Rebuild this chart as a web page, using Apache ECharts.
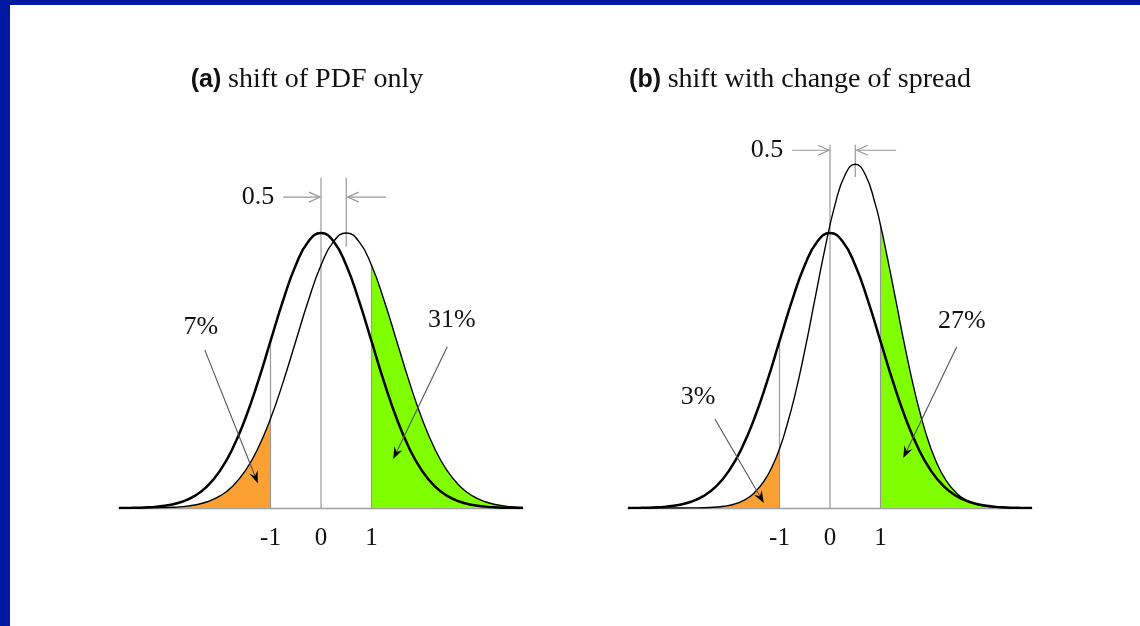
<!DOCTYPE html>
<html><head><meta charset="utf-8">
<script src="https://cdn.jsdelivr.net/npm/echarts@6/dist/echarts.min.js"></script>
<style>html,body{margin:0;padding:0;background:#fff}#c{width:1140px;height:626px}</style>
</head><body><div id="c"></div>
<script>
// ---- data ----
const xs = [-4,-3.75,-3.5,-3.25,-3,-2.75,-2.5,-2.25,-2,-1.75,-1.5,-1.25,-1,-0.75,-0.5,-0.25,0,0.25,0.5,0.75,1,1.25,1.5,1.75,2,2.25,2.5,2.75,3,3.25,3.5,3.75,4];
// reference PDF (centred on 0), both panels
const pdfRef = [0.0001,0.0004,0.0009,0.0020,0.0044,0.0091,0.0175,0.0317,0.0540,0.0863,0.1295,0.1826,0.2420,0.3011,0.3521,0.3867,0.3989,0.3867,0.3521,0.3011,0.2420,0.1826,0.1295,0.0863,0.0540,0.0317,0.0175,0.0091,0.0044,0.0020,0.0009,0.0004,0.0001];
// panel (a): shifted PDF, same spread (on xs)
const pdfShiftA = [0.0000,0.0000,0.0001,0.0004,0.0009,0.0020,0.0044,0.0091,0.0175,0.0317,0.0540,0.0863,0.1295,0.1826,0.2420,0.3011,0.3521,0.3867,0.3989,0.3867,0.3521,0.3011,0.2420,0.1826,0.1295,0.0863,0.0540,0.0317,0.0175,0.0091,0.0044,0.0020,0.0009];
// panel (b): shifted PDF, narrower spread (on its own x grid)
const xsB = [-4,-3.9,-3.7,-3.5,-3.3,-3.1,-2.9,-2.7,-2.5,-2.3,-2.1,-1.9,-1.7,-1.5,-1.3,-1.1,-1,-0.9,-0.7,-0.5,-0.3,-0.1,0.1,0.3,0.5,0.7,0.9,1,1.1,1.3,1.5,1.7,1.9,2.1,2.3,2.5,2.7,2.9,3.1,3.3,3.5,3.7,3.9,4];
const pdfShiftB = [0,0,0,0,0,0,0.0001,0.0002,0.0004,0.0011,0.0025,0.0055,0.0114,0.0219,0.0396,0.0675,0.0860,0.1079,0.1619,0.2283,0.3025,0.3764,0.4401,0.4834,0.4987,0.4834,0.4401,0.4102,0.3764,0.3025,0.2283,0.1619,0.1079,0.0675,0.0396,0.0219,0.0114,0.0055,0.0025,0.0011,0.0004,0.0002,0.0001,0];
const tickLabels = ['-1','0','1'];
const thresholds = [-1, 1];
const shiftValue = 0.5;
const shiftLabel = '0.5';
const percentLabels = [['7%','31%'],['3%','27%']];
const titleTags = ['(a)','(b)'];
const titleTexts = ['shift of PDF only','shift with change of spread'];

// ---- styles ----
const SERIF = '"Liberation Serif","Times New Roman",serif';
const SANS = '"Liberation Sans",Arial,sans-serif';
const BLUE = '#0019A3', ORANGE = '#FBA133', GREEN = '#80FF00', GRAY = '#999999';

const chart = echarts.init(document.getElementById('c'));
const pts = (xv, ys, test) => xv.map((x,i)=>[x, ys[i]]).filter(p=>test(p[0]));
const valAt = (xv, ys, x) => ys[xv.indexOf(x)];
const shiftedY = [pdfShiftA, pdfShiftB];
const shiftedX = [xs, xsB];

const grids = [
  {left:119, width:404, top:94.4, height:413.6},
  {left:628, width:404, top:94.4, height:413.6}
];
const xAxes = [0,1].map(i=>({gridIndex:i,type:'value',min:-4,max:4,interval:1,
  axisLine:{lineStyle:{color:'#a0a0a0',width:1.3}},axisTick:{show:false},splitLine:{show:false},
  axisLabel:{margin:18,fontFamily:SERIF,fontSize:25,color:'#111',showMinLabel:true,showMaxLabel:true,
    formatter:v=>tickLabels.includes(String(v))?String(v):''}}));
const yAxes = [0,1].map(i=>({gridIndex:i,type:'value',min:0,max:0.6,show:false}));
const series = [];
[0,1].forEach(i=>{
  const base = {type:'line',xAxisIndex:i,yAxisIndex:i,smooth:true,symbol:'none',silent:true,animation:false};
  const sx = shiftedX[i], sy = shiftedY[i];
  series.push(Object.assign({},base,{data:pts(sx,sy,x=>x<=thresholds[0]),lineStyle:{width:0},areaStyle:{color:ORANGE,opacity:1},z:1}));
  series.push(Object.assign({},base,{data:pts(sx,sy,x=>x>=thresholds[1]),lineStyle:{width:0},areaStyle:{color:GREEN,opacity:1},z:1}));
  series.push(Object.assign({},base,{data:pts(xs,pdfRef,()=>true),lineStyle:{color:'#000',width:2.5},z:4}));
  series.push(Object.assign({},base,{data:pts(sx,sy,()=>true),lineStyle:{color:'#000',width:1.4},z:4}));
});

chart.setOption({animation:false,backgroundColor:'#fff',grid:grids,xAxis:xAxes,yAxis:yAxes,series:series});

// ---- annotations (positions in data units) ----
const ann = [
  {vTop:0.479, vMid:0.379, arrowY:0.451, lFrom:-0.75, lTo:-0.02, rFrom:1.29, rTo:0.53, labelX:-1.25,
   pct:[{t:[-2.38,0.263], a:[-2.30,0.229], b:[-1.25,0.036]},{t:[2.59,0.273], a:[2.50,0.234], b:[1.43,0.071]}]},
  {vTop:0.527, vMid:0.480, arrowY:0.519, lFrom:-0.75, lTo:-0.02, rFrom:1.31, rTo:0.53, labelX:-1.25,
   pct:[{t:[-2.61,0.161], a:[-2.28,0.129], b:[-1.31,0.0073]},{t:[2.61,0.271], a:[2.51,0.234], b:[1.45,0.0725]}]}
];
const G = [];
G.push({type:'rect',shape:{x:0,y:0,width:1140,height:5},style:{fill:BLUE},z:10});
G.push({type:'rect',shape:{x:0,y:0,width:10,height:626},style:{fill:BLUE},z:10});

function head(tip, from, len, half){
  const dx=tip[0]-from[0], dy=tip[1]-from[1], L=Math.hypot(dx,dy), ux=dx/L, uy=dy/L;
  const bx=tip[0]-ux*len, by=tip[1]-uy*len;
  return {l:[bx-uy*half,by+ux*half], r:[bx+uy*half,by-ux*half], n:[tip[0]-ux*len*0.65,tip[1]-uy*len*0.65]};
}
function line(p,q,color,w,z){return {type:'line',shape:{x1:p[0],y1:p[1],x2:q[0],y2:q[1]},style:{stroke:color,lineWidth:w},z:z||3,silent:true};}

[0,1].forEach(i=>{
  const P = v => chart.convertToPixel({gridIndex:i}, v);
  const a = ann[i];
  const sx = shiftedX[i], sy = shiftedY[i];
  // vertical guide lines
  G.push(line(P([thresholds[0],0]),P([thresholds[0],valAt(xs,pdfRef,thresholds[0])]),GRAY,1.2,3));
  G.push(line(P([thresholds[1],0]),P([thresholds[1],Math.max(valAt(xs,pdfRef,thresholds[1]),valAt(sx,sy,thresholds[1]))]),GRAY,1.2,3));
  G.push(line(P([0,0]),P([0,a.vTop]),GRAY,1.2,3));
  G.push(line(P([shiftValue,a.vMid]),P([shiftValue,a.vTop]),GRAY,1.2,3));
  // 0.5 arrows (open heads)
  [[a.lFrom,a.lTo],[a.rFrom,a.rTo]].forEach(([f,t])=>{
    const p0=P([f,a.arrowY]), p1=P([t,a.arrowY]);
    G.push(line(p0,p1,GRAY,1.2,5));
    const h=head(p1,p0,11,5);
    G.push({type:'polyline',shape:{points:[h.l,p1,h.r]},style:{stroke:GRAY,lineWidth:1.2,fill:null},z:5,silent:true});
  });
  const lp=P([a.labelX,a.arrowY]);
  G.push({type:'text',x:lp[0],y:lp[1],style:{text:shiftLabel,font:'26px '+SERIF,fill:'#111',align:'center',verticalAlign:'middle'},z:6});
  // percentage labels + arrows
  a.pct.forEach((q,k)=>{
    const tp=P(q.t), pa=P(q.a), pb=P(q.b);
    G.push({type:'text',x:tp[0],y:tp[1],style:{text:percentLabels[i][k],font:'26px '+SERIF,fill:'#111',align:'center',verticalAlign:'middle'},z:6});
    const h=head(pb,pa,12,4.5);
    G.push(line(pa,h.n,'#555',1.1,6));
    G.push({type:'polygon',shape:{points:[h.l,pb,h.r,h.n]},style:{fill:'#000'},z:6,silent:true});
  });
  // title
  const cx = i===0 ? 307 : 800;
  G.push({type:'text',x:cx,y:80,style:{text:'{b|'+titleTags[i]+'}  {s|'+titleTexts[i]+'}',
    rich:{b:{fontFamily:SANS,fontWeight:'bold',fontSize:25,fill:'#111'},s:{fontFamily:SERIF,fontSize:28,fill:'#111'}},
    align:'center',verticalAlign:'middle'},z:6});
});
chart.setOption({graphic:G});
</script></body></html>
